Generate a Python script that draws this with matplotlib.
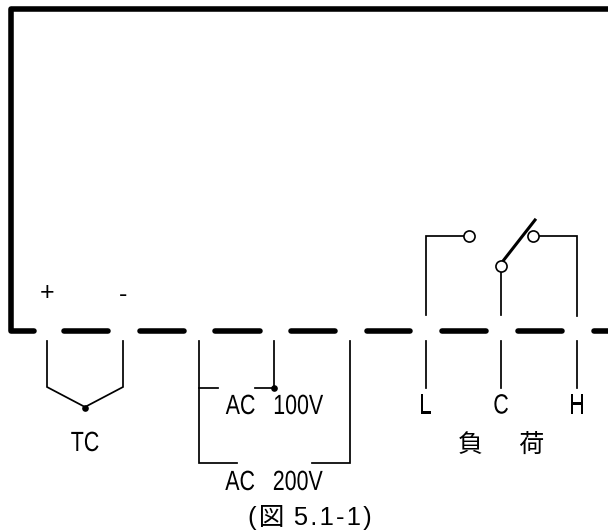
import matplotlib
matplotlib.use('Agg')
import matplotlib.pyplot as plt
from matplotlib.patheffects import AbstractPathEffect
from matplotlib.transforms import Affine2D

FONT_LATIN = ['Liberation Sans', 'DejaVu Sans']
FONT_MIXED = ['Liberation Sans', 'Noto Sans CJK JP', 'DejaVu Sans']

# pixel coordinates of the diagram
case_x = [608, 10.5, 10.5, 34]
case_y = [9, 9, 330.5, 330.5]
terminal_dashes = [(61, 110), (137, 186), (212, 262), (288, 337), (364, 412), (439, 488), (515, 564), (591, 610)]

thin_wires = [
    ([47, 47, 85, 123, 123], [341, 387, 407, 387, 341]),
    ([237, 199, 199], [463, 463, 341]),
    ([199, 218], [387.5, 387.5]),
    ([255, 274, 274], [387.5, 387.5, 341]),
    ([312, 350, 350], [463, 463, 341]),
    ([425.5, 425.5], [341, 388]),
    ([501, 501], [341, 388]),
    ([577, 577], [341, 388]),
    ([425.5, 425.5, 465], [315, 236, 236]),
    ([501, 501], [315, 272]),
    ([539, 577, 577], [236, 236, 316]),
]
dots = [(85, 408), (274, 387.5)]
contacts = [(469, 236), (501, 266), (533, 236)]
switch_x = [503, 535]
switch_y = [261, 220]

signs = [('+', 47, 293.5), ('-', 123, 295)]
narrow_labels = [
    ('TC', 85, 444), ('AC   100V', 274.5, 407), ('AC   200V', 274, 483),
    ('L', 425.5, 406.5), ('C', 501, 406.5), ('H', 577, 406.5),
]
load_label = '負 \u3000 荷'
caption = '(\u200a図\u200a 5\u200a.\u200a1\u200a-\u200a1\u200a)'


class SqueezeX(AbstractPathEffect):
    # the reference font is condensed, none is installed, so narrow the glyphs
    def __init__(self, factor, centre):
        super().__init__()
        self.factor = factor
        self.centre = centre

    def draw_path(self, renderer, gc, tpath, affine, rgbFace=None):
        squeeze = Affine2D().translate(-self.centre, 0).scale(self.factor, 1).translate(self.centre, 0)
        renderer.draw_path(gc, tpath, affine + squeeze, rgbFace)


fig = plt.figure(figsize=(6.08, 5.32), dpi=100)
ax = fig.add_axes([0, 0, 1, 1])
ax.set_xlim(0, 608)
ax.set_ylim(532, 0)
ax.axis('off')

ax.plot(case_x, case_y, color='black', lw=4, solid_capstyle='round', solid_joinstyle='round')
for x0, x1 in terminal_dashes:
    ax.plot([x0 + 2.5, x1 - 2.5], [330.5, 330.5], color='black', lw=4, solid_capstyle='round')

for xs, ys in thin_wires:
    ax.plot(xs, ys, color='black', lw=1.25, solid_joinstyle='miter')

ax.plot(switch_x, switch_y, color='black', lw=2.2)
ax.plot(*zip(*dots), 'o', color='black', ms=4.8, mew=0)
ax.plot(*zip(*contacts), 'o', mfc='white', mec='black', ms=8, mew=1.2, zorder=5)

for text, x, y in signs:
    ax.text(x, y, text, family=FONT_LATIN, fontsize=18, ha='center', va='center')
for text, x, y in narrow_labels:
    ax.text(x, y, text, family=FONT_LATIN, fontsize=20, ha='center', va='center',
            path_effects=[SqueezeX(0.77, x)])
ax.text(501.5, 445, load_label, family=['Noto Sans CJK JP', 'DejaVu Sans'], fontsize=18, ha='center', va='center')
ax.text(310, 517, caption, family=FONT_MIXED, fontsize=18.5, ha='center', va='center')

fig.savefig('out.png', dpi=100)
